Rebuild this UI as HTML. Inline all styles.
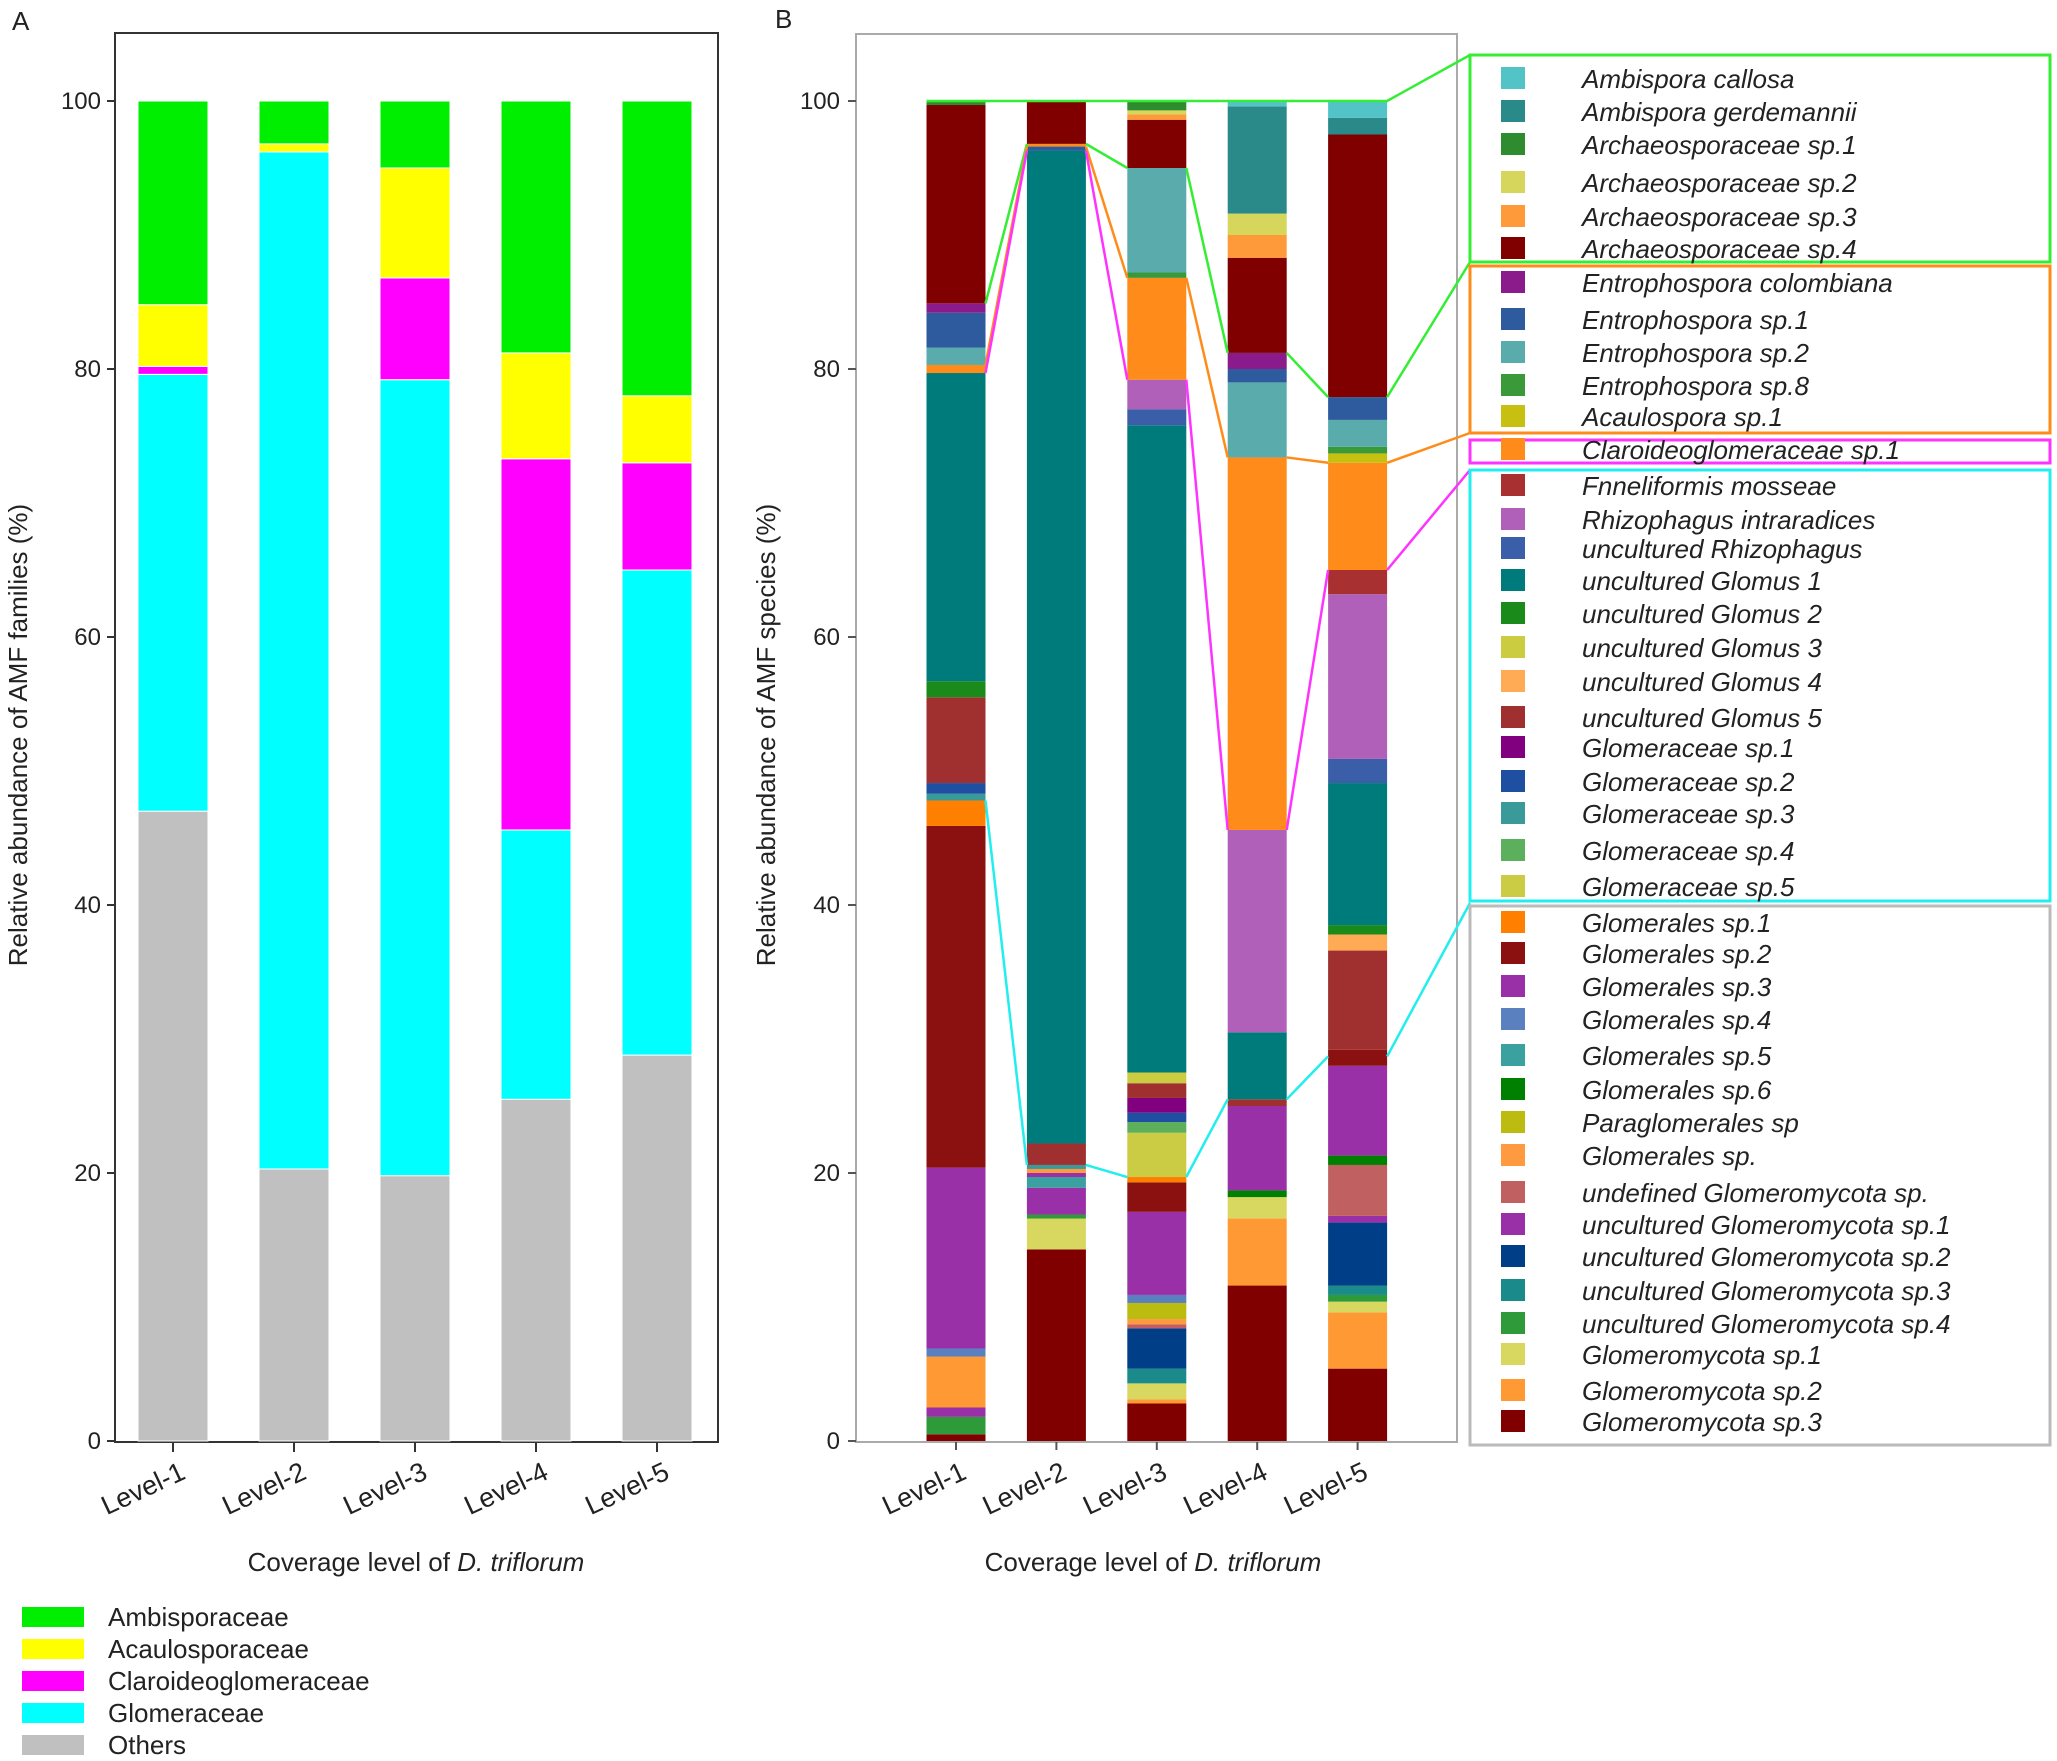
<!DOCTYPE html>
<html><head><meta charset="utf-8">
<style>
html,body{margin:0;padding:0;background:#fff;}
svg{display:block;font-family:"Liberation Sans",Arial,sans-serif;}
</style></head>
<body>
<svg id="fig" width="2057" height="1761" viewBox="0 0 2057 1761" xmlns="http://www.w3.org/2000/svg">
<g id="gA"></g>
<g id="gB"></g>
</svg>
<script>
// ---------- Panel A data ----------
const levels = ["Level-1","Level-2","Level-3","Level-4","Level-5"];
const famNames = ["Others","Glomeraceae","Claroideoglomeraceae","Acaulosporaceae","Ambisporaceae"];
const famColors = ["#c0c0c0","#00ffff","#ff00ff","#ffff00","#00ee00"];
const others = [47.0,20.3,19.8,25.5,28.8];
const glomeraceae = [32.6,75.9,59.4,20.1,36.2];
const claroideo = [0.6,0,7.6,27.7,8.0];
const acaulo = [4.6,0.6,8.2,7.9,5.0];
const ambis = [15.2,3.2,5.0,18.8,22.0];
const yTicks = [0,20,40,60,80,100];

// ---------- Panel B data ----------
const species = ["Ambispora callosa","Ambispora gerdemannii","Archaeosporaceae sp.1","Archaeosporaceae sp.2","Archaeosporaceae sp.3","Archaeosporaceae sp.4","Entrophospora colombiana","Entrophospora sp.1","Entrophospora sp.2","Entrophospora sp.8","Acaulospora sp.1","Claroideoglomeraceae sp.1","Fnneliformis mosseae","Rhizophagus intraradices","uncultured Rhizophagus","uncultured Glomus 1","uncultured Glomus 2","uncultured Glomus 3","uncultured Glomus 4","uncultured Glomus 5","Glomeraceae sp.1","Glomeraceae sp.2","Glomeraceae sp.3","Glomeraceae sp.4","Glomeraceae sp.5","Glomerales sp.1","Glomerales sp.2","Glomerales sp.3","Glomerales sp.4","Glomerales sp.5","Glomerales sp.6","Paraglomerales sp","Glomerales sp.","undefined Glomeromycota sp.","uncultured Glomeromycota sp.1","uncultured Glomeromycota sp.2","uncultured Glomeromycota sp.3","uncultured Glomeromycota sp.4","Glomeromycota sp.1","Glomeromycota sp.2","Glomeromycota sp.3"];
const spColors = ["#52c4c8","#2a8a8a","#2e8b2e","#d6d65c","#ff9a3a","#800000","#8b1a8b","#2e5a9e","#5aacac","#3a9a3a","#c8c010","#ff8c1a","#a83030","#b060b8","#3a5fa8","#007b7b","#1a8a1a","#cccc40","#ffaa55","#a03030","#800080","#1f4fa0","#3a9a9a","#5cb05c","#cccc44","#ff7f00","#8b1010","#9a30a8","#5a80c0","#3aa0a0","#008000","#bcbc10","#ff9a40","#c06060","#9a30a8","#003f87","#1a8a8a","#2e9a3a","#d8d860","#ff9933","#800000"];
const l1Species = [40,37,27,39,28,34,26,25,22,21,19,16,15,11,8,7,6,5,2];
const l1Values  = [0.5,1.3,0.7,3.8,0.6,13.5,25.5,1.9,0.5,0.8,6.4,1.2,23.0,0.6,1.3,2.6,0.7,14.8,0.3];
const l2Species = [40,38,37,34,29,27,32,22,19,15,7,11,5];
const l2Values  = [14.3,2.3,0.3,2.0,0.8,0.3,0.3,0.3,1.6,74.1,0.3,0.2,3.2];
const l3Species = [40,39,38,36,35,33,32,31,28,34,26,25,24,23,21,20,19,17,15,14,13,11,9,8,5,4,3,2];
const l3Values  = [2.8,0.3,1.2,1.1,3.0,0.3,0.4,1.2,0.6,6.2,2.2,0.4,3.3,0.8,0.7,1.1,1.1,0.8,48.3,1.2,2.2,7.6,0.4,7.8,3.6,0.4,0.3,0.7];
const l4Species = [40,39,38,30,34,19,15,13,11,8,7,6,5,4,3,1,0];
const l4Values  = [11.6,5.0,1.6,0.5,6.3,0.5,5.0,15.1,27.8,5.6,1.0,1.2,7.1,1.7,1.6,8.0,0.4];
const l5Species = [40,39,38,37,36,35,34,33,30,27,26,19,18,16,15,14,13,12,11,10,9,8,7,5,1,0];
const l5Values  = [5.4,4.2,0.8,0.5,0.7,4.7,0.5,3.8,0.7,6.7,1.2,7.4,1.2,0.7,10.6,1.8,12.3,1.8,8.0,0.7,0.5,2.0,1.7,19.6,1.25,1.25];
const ambisBottom = [84.9,96.8,95.0,81.2,77.9];
const entroBottom = [80.3,96.6,86.8,73.4,73.0];
const claroBottom = [79.7,96.3,79.2,45.6,65.0];
const glomBottom = [47.8,20.6,19.7,25.5,28.7];

const NS="http://www.w3.org/2000/svg";
function mk(parent,tag,attrs,text){const e=document.createElementNS(NS,tag);for(const k in attrs)e.setAttribute(k,attrs[k]);if(text!==undefined)e.textContent=text;parent.appendChild(e);return e;}

// ================= Panel A =================
const gA=document.getElementById('gA');
const A={l:115,r:718,t:33,b:1442,y0:1441,y100:101};
const yA=v=>A.y0-(A.y0-A.y100)*v/100;
const xA=i=>173+i*121;
let e=mk(gA,'rect',{x:A.l,y:A.t,width:A.r-A.l,height:A.b-A.t,fill:'none',stroke:'#333','stroke-width':2});


const famSeries=[others,glomeraceae,claroideo,acaulo,ambis];
for(let i=0;i<levels.length;i++){
  let cum=0;
  for(let s=0;s<famSeries.length;s++){
    const v=famSeries[s][i]; if(v<=0){continue;}
    const r=mk(gA,'rect',{x:xA(i)-35,y:yA(cum+v),width:70,height:yA(cum)-yA(cum+v),fill:famColors[s],stroke:'#fff','stroke-width':1});
    
    
    cum+=v;
  }
}
for(const t of yTicks){
  const tk=mk(gA,'line',{x1:A.l-8,x2:A.l,y1:yA(t),y2:yA(t),stroke:'#333','stroke-width':2});
  
  
  const tl=mk(gA,'text',{x:A.l-14,y:yA(t)+8,'text-anchor':'end','font-size':24,fill:'#222'},String(t));
  
  
}
levels.forEach((lv,i)=>{
  const tk=mk(gA,'line',{x1:xA(i),x2:xA(i),y1:A.b,y2:A.b+10,stroke:'#333','stroke-width':2});
  
  
  const tl=mk(gA,'text',{x:xA(i)+14,y:A.b+36,'text-anchor':'end','font-size':27,fill:'#222',transform:`rotate(-25 ${xA(i)+14} ${A.b+36})`},lv);
  
  
});
e=mk(gA,'text',{x:416,y:1571,'text-anchor':'middle','font-size':26,fill:'#222'});
e.innerHTML='Coverage level of <tspan font-style="italic">D. triflorum</tspan>';


e=mk(gA,'text',{x:0,y:0,'text-anchor':'middle','font-size':26,fill:'#222',transform:'translate(27 735) rotate(-90)'},'Relative abundance of AMF families (%)');


e=mk(gA,'text',{x:12,y:30,'font-size':26,fill:'#222'},'A');


const legOrder=[4,3,2,1,0];
legOrder.forEach((s,k)=>{
  const y=1607+k*32;
  const sw=mk(gA,'rect',{x:22,y:y,width:62,height:20,fill:famColors[s]});
  
  
  const tx=mk(gA,'text',{x:108,y:y+19,'font-size':26,fill:'#222'},famNames[s]);
  
  
});

// ================= Panel B =================
const gB=document.getElementById('gB');
const B={l:856,r:1457,t:34,b:1442,y0:1441,y100:101};
const yB=v=>B.y0-(B.y0-B.y100)*v/100;
const xB=i=>956+i*100.4;
const bw=59;
e=mk(gB,'rect',{x:B.l,y:B.t,width:B.r-B.l,height:B.b-B.t,fill:'none',stroke:'#aaa','stroke-width':2});


const stS=[l1Species,l2Species,l3Species,l4Species,l5Species];
const stV=[l1Values,l2Values,l3Values,l4Values,l5Values];
for(let i=0;i<5;i++){
  let cum=0;
  for(let k=0;k<stS[i].length;k++){
    const v=stV[i][k], s=stS[i][k];
    const r=mk(gB,'rect',{x:xB(i)-bw/2,y:yB(cum+v),width:bw,height:yB(cum)-yB(cum+v),fill:spColors[s]});
    
    
    cum+=v;
  }
}
function connect(arr,col,endY,name){
  let pts=[];
  for(let i=0;i<5;i++){pts.push([xB(i)-bw/2,yB(arr[i])]);pts.push([xB(i)+bw/2,yB(arr[i])]);}
  let d='';
  for(let i=0;i<4;i++){d+=`M${pts[2*i+1][0]},${pts[2*i+1][1]}L${pts[2*i+2][0]},${pts[2*i+2][1]}`;}
  d+=`M${pts[9][0]},${pts[9][1]}L1470,${endY}`;
  const p=mk(gB,'path',{d:d,fill:'none',stroke:col,'stroke-width':2.5});
  
  
}
e=mk(gB,'path',{d:`M${xB(0)-bw/2},${yB(100)}L${xB(4)+bw/2},${yB(100)}L1470,55`,fill:'none',stroke:'#33ee33','stroke-width':2.5});


connect(ambisBottom,'#33ee33',262,'ambis-connector');
connect(entroBottom,'#ff8c1a',433,'entro-connector');
connect(claroBottom,'#ff33ff',470,'claro-connector');
connect(glomBottom,'#22eeee',903,'glom-connector');
for(const t of yTicks){
  const tk=mk(gB,'line',{x1:B.l-8,x2:B.l,y1:yB(t),y2:yB(t),stroke:'#555','stroke-width':2});
  
  
  const tl=mk(gB,'text',{x:B.l-16,y:yB(t)+8,'text-anchor':'end','font-size':24,fill:'#222'},String(t));
  
  
}
levels.forEach((lv,i)=>{
  const tk=mk(gB,'line',{x1:xB(i),x2:xB(i),y1:B.b,y2:B.b+8,stroke:'#555','stroke-width':2});
  
  
  const tl=mk(gB,'text',{x:xB(i)+12,y:B.b+36,'text-anchor':'end','font-size':27,fill:'#222',transform:`rotate(-25 ${xB(i)+12} ${B.b+36})`},lv);
  
  
});
e=mk(gB,'text',{x:1153,y:1571,'text-anchor':'middle','font-size':26,fill:'#222'});
e.innerHTML='Coverage level of <tspan font-style="italic">D. triflorum</tspan>';


e=mk(gB,'text',{x:0,y:0,'text-anchor':'middle','font-size':26,fill:'#222',transform:'translate(775 735) rotate(-90)'},'Relative abundance of AMF species (%)');


e=mk(gB,'text',{x:775,y:28,'font-size':26,fill:'#222'},'B');


const boxes=[[55,262,'#33ee33','legend-box-ambisporaceae'],[266,433,'#ff8c1a','legend-box-acaulosporaceae'],[440,463,'#ff33ff','legend-box-claroideoglomeraceae'],[470,901,'#22eeee','legend-box-glomeraceae'],[906,1445,'#bbbbbb','legend-box-others']];
for(const b of boxes){
  const r=mk(gB,'rect',{x:1470,y:b[0],width:580,height:b[1]-b[0],fill:'none',stroke:b[2],'stroke-width':3});
  
  
}
const rowY=[79,112,145,183,217,249,283,320,353,386,417,450,486,520,549,581,614,648,682,718,748,782,814,851,887,923,954,987,1020,1056,1090,1123,1156,1193,1225,1257,1291,1324,1355,1391,1422];
species.forEach((nm,k)=>{
  const y=rowY[k];
  const sw=mk(gB,'rect',{x:1501,y:y-12,width:24,height:22,fill:spColors[k]});
  
  
  const tx=mk(gB,'text',{x:1582,y:y+9,'font-size':26,'font-style':'italic',fill:'#222'},nm);
  
  
});
</script>
</body></html>
